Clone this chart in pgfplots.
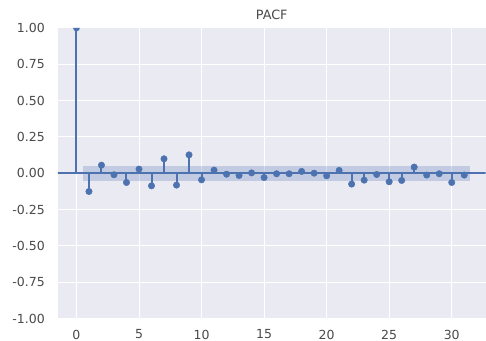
\documentclass[border=0pt]{standalone}
\usepackage{fontspec}
\setmainfont{DejaVu Sans}
\usepackage{pgfplots}
\pgfplotsset{compat=1.18}
\definecolor{sbblue}{HTML}{4C72B0}
\definecolor{sbbg}{HTML}{EAEAF2}
\definecolor{sbtext}{HTML}{4A4A4A}
\pgfdeclareplotmark{lowhalf}{%
  \pgfpathmoveto{\pgfqpoint{-\pgfplotmarksize}{0pt}}%
  \pgfpatharc{180}{360}{\pgfplotmarksize}%
  \pgfpathclose\pgfusepathqfill}
\begin{document}
\begin{tikzpicture}
\begin{axis}[
  at={(0,0)}, anchor=south west,
  scale only axis, width=428bp, height=291bp,
  xmin=-1.48, xmax=32.7, ymin=-1, ymax=1,
  axis background/.style={fill=sbbg},
  axis line style={draw=none},
  major tick length=0pt,
  grid=major, major grid style={white, line width=1bp},
  xtick={0,5,...,30}, ytick={-1,-0.75,-0.5,-0.25,0,0.25,0.5,0.75,1},
  /pgf/number format/assume math mode=true,
  yticklabel style={/pgf/number format/fixed, /pgf/number format/fixed zerofill, /pgf/number format/precision=2},
  tick label style={font=\fontsize{12.5bp}{15bp}\selectfont, text=sbtext},
  yticklabel style={inner sep=0pt, anchor=east, xshift=-13bp},
  xticklabel style={inner sep=0pt, anchor=north, yshift=-11bp},
  title={PACF},
  title style={font=\fontsize{12.8bp}{15bp}\selectfont, text=sbtext, at={(0.5,1)}, anchor=base, inner sep=0pt, yshift=2.5bp},
]
% confidence band
\addplot[fill=sbblue, fill opacity=0.25, draw=none] coordinates {(0.5,-0.052) (31.5,-0.052) (31.5,0.052) (0.5,0.052)} -- cycle;
% zero line
\addplot[draw=sbblue, line width=2bp] coordinates {(-5,0) (40,0)};
% stems
\addplot[ycomb, draw=sbblue, line width=2bp, no markers] coordinates {
(0,1.0) (1,-0.125) (2,0.056) (3,-0.010) (4,-0.063) (5,0.029) (6,-0.086) (7,0.100)
(8,-0.081) (9,0.127) (10,-0.045) (11,0.022) (12,-0.006) (13,-0.015) (14,0.003)
(15,-0.029) (16,-0.003) (17,-0.003) (18,0.013) (19,0.001) (20,-0.017) (21,0.020)
(22,-0.074) (23,-0.047) (24,-0.008) (25,-0.058) (26,-0.049) (27,0.043) (28,-0.012)
(29,-0.003) (30,-0.063) (31,-0.012)};
% markers
\addplot[sbblue, only marks, mark=*, mark size=3.2bp, mark options={fill=sbblue, draw=sbblue, line width=0.5bp}] coordinates {
(1,-0.125) (2,0.056) (3,-0.010) (4,-0.063) (5,0.029) (6,-0.086) (7,0.100)
(8,-0.081) (9,0.127) (10,-0.045) (11,0.022) (12,-0.006) (13,-0.015) (14,0.003)
(15,-0.029) (16,-0.003) (17,-0.003) (18,0.013) (19,0.001) (20,-0.017) (21,0.020)
(22,-0.074) (23,-0.047) (24,-0.008) (25,-0.058) (26,-0.049) (27,0.043) (28,-0.012)
(29,-0.003) (30,-0.063) (31,-0.012)};
% lag 0 marker, clipped at the top edge
\addplot[sbblue, only marks, mark=lowhalf, mark size=3.4bp, mark options={fill=sbblue}] coordinates {(0,1.0)};
\end{axis}
\path[use as bounding box] (-58bp,-22bp) rectangle (428bp,319bp);
\end{tikzpicture}
\end{document}
